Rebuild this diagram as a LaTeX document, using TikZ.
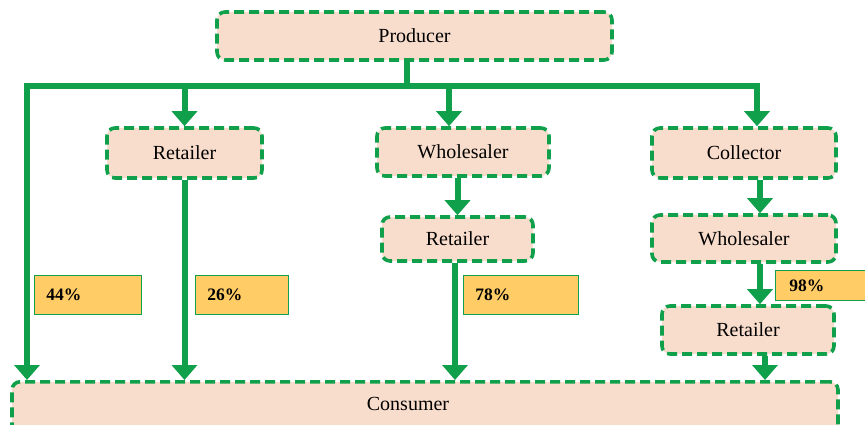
\documentclass[tikz,border=0pt]{standalone}
\usepackage{fontspec}
\setmainfont{Liberation Serif}
\usetikzlibrary{arrows.meta}
\definecolor{gr}{HTML}{10A04C}
\definecolor{pk}{HTML}{F9DDCC}
\definecolor{og}{HTML}{FFCC66}
\tikzset{
  stage/.style={draw=gr, fill=pk, line width=3.6pt, dash pattern=on 10pt off 5pt,
    rounded corners=8pt, inner sep=0pt, font=\fontsize{20}{22}\selectfont},
  pct/.style={draw=gr, fill=og, line width=0.9pt, anchor=north west, inner xsep=12pt,
    align=left, font=\bfseries\fontsize{17.5}{19}\selectfont},
  flow/.style={draw=gr, line width=6pt},
  arr/.style={flow, -{Triangle[width=25pt,length=15pt]}}
}
\begin{document}
\begin{tikzpicture}[x=1pt,y=-1pt]
\useasboundingbox (0,0) rectangle (865,425);
% nodes
\node[stage, minimum width=395pt, minimum height=48pt] (P) at (414.5,36) {Producer};
\node[stage, minimum width=155pt, minimum height=50pt] (R1) at (184.5,153) {Retailer};
\node[stage, minimum width=172pt, minimum height=48pt] (W1) at (463,152) {Wholesaler};
\node[stage, minimum width=184pt, minimum height=50pt] (C) at (744,153) {Collector};
\node[stage, minimum width=151pt, minimum height=44pt] (R2) at (457.5,239) {Retailer};
\node[stage, minimum width=184pt, minimum height=47pt] (W2) at (744,238.5) {Wholesaler};
\node[stage, minimum width=172pt, minimum height=48pt] (R3) at (748,330) {Retailer};
\node[stage, minimum width=826pt, minimum height=52pt, anchor=north] (Cons) at (425,380) {};
\node[font=\fontsize{20}{22}\selectfont] (ConsT) at (408,404) {Consumer};
% bus
\coordinate (busL) at (27,86);
\coordinate (busR) at (757,86);
\draw[flow] ([xshift=-7.5pt]P.south) -- ([xshift=-7.5pt]P.south |- busL);
\draw[flow, line cap=rect] (busL) -- (busR);
\draw[arr] (busL) -- (busL |- Cons.north);
\draw[arr] (R1.north |- busL) -- (R1.north);
\draw[arr] ([xshift=-14pt]W1.north |- busL) -- ([xshift=-14pt]W1.north);
\draw[arr] ([xshift=13pt]C.north |- busL) -- ([xshift=13pt]C.north);
% vertical flows
\draw[arr] (R1.south) -- (R1.south |- Cons.north);
\draw[arr] (W1.south -| R2.north) -- (R2.north);
\draw[arr] ([xshift=-2.5pt]R2.south) -- ([xshift=-2.5pt]R2.south |- Cons.north);
\draw[arr] ([xshift=16pt]C.south) -- ([xshift=16pt]C.south |- W2.north);
\draw[arr] ([xshift=16pt]W2.south) -- ([xshift=16pt]W2.south |- R3.north);
\draw[arr] ([xshift=17pt]R3.south) -- ([xshift=17pt]R3.south |- Cons.north);
% percentages
\node[pct, text width=83pt, minimum height=39pt] (p44) at (34,275) {44\%};
\node[pct, text width=69pt, minimum height=39pt] (p26) at (195,275) {26\%};
\node[pct, text width=91pt, minimum height=39pt] (p78) at (463,275) {78\%};
\node[pct, inner xsep=14pt, text width=80pt, minimum height=30pt] (p98) at (775,270) {98\%};
\end{tikzpicture}
\end{document}
